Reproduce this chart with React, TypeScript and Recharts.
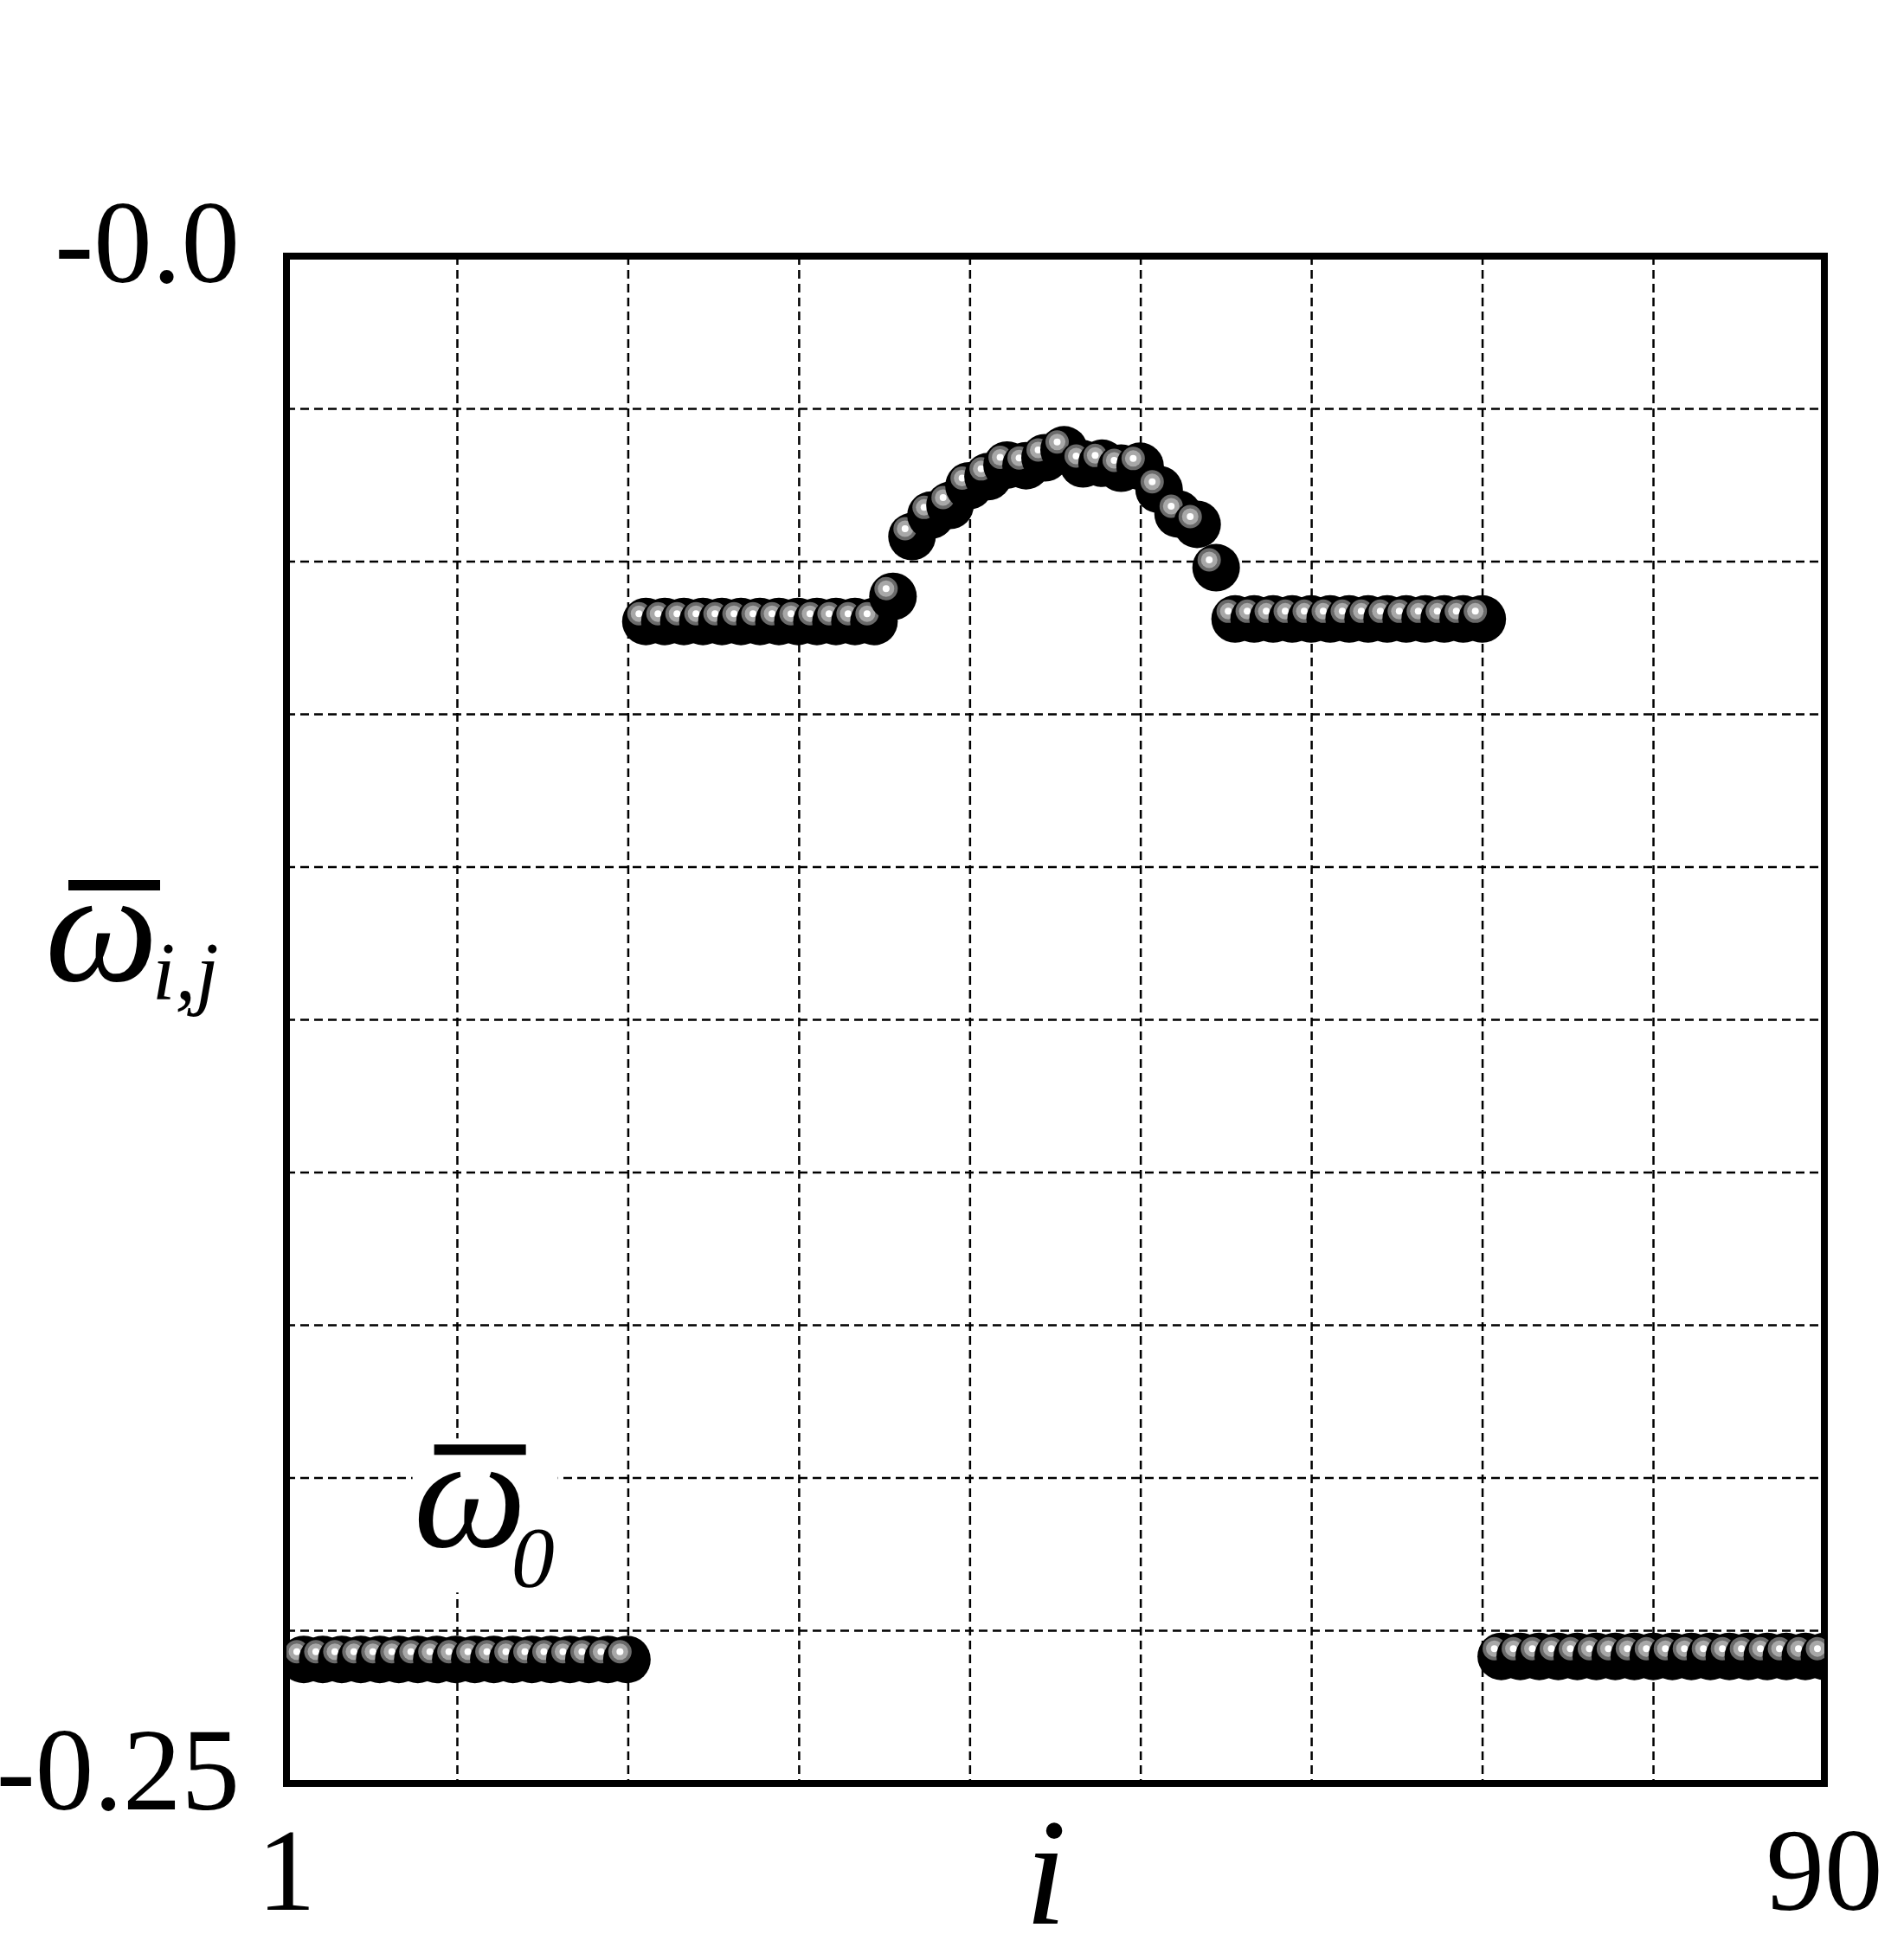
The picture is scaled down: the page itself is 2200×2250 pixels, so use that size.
import { ScatterChart, Scatter, XAxis, YAxis, CartesianGrid, ReferenceDot } from "recharts";

// site index i of each ball
const I_POS = [
  2, 3.1, 4.2, 5.3, 6.4, 7.5, 8.6, 9.7, 10.8, 11.9,
  13, 14.1, 15.2, 16.3, 17.4, 18.5, 19.6, 20.7, 21.8, 22.9,
  24, 25.1, 26.2, 27.3, 28.4, 29.5, 30.6, 31.7, 32.8, 33.9,
  35, 36.1, 37.2, 38.3, 39.4, 40.5, 41.6, 42.7, 43.8, 44.9,
  46, 47.1, 48.2, 49.3, 50.4, 51.5, 52.6, 53.7, 54.8, 55.9,
  57, 58.1, 59.2, 60.3, 61.4, 62.5, 63.6, 64.7, 65.8, 66.9,
  68, 69.1, 70.2, 71.3, 72.4, 73.5, 74.6, 75.7, 76.8, 77.9,
  79, 80.1, 81.2, 82.3, 83.4, 84.5, 85.6, 86.7, 87.8, 88.9,
  90,
];

// mean omega at each site
const OMEGA = [
  -0.2297, -0.2297, -0.2297, -0.2297, -0.2297, -0.2297, -0.2297, -0.2297, -0.2297, -0.2297,
  -0.2297, -0.2297, -0.2297, -0.2297, -0.2297, -0.2297, -0.2297, -0.2297, -0.0598, -0.0598,
  -0.0598, -0.0598, -0.0598, -0.0598, -0.0598, -0.0598, -0.0598, -0.0598, -0.0598, -0.0598,
  -0.0598, -0.0557, -0.0459, -0.0424, -0.0408, -0.0376, -0.0361, -0.0342, -0.0343, -0.033,
  -0.0317, -0.034, -0.0339, -0.0347, -0.0344, -0.0382, -0.0422, -0.0439, -0.051, -0.0594,
  -0.0594, -0.0594, -0.0594, -0.0594, -0.0594, -0.0594, -0.0594, -0.0594, -0.0594, -0.0594,
  -0.0594, -0.0594, -0.0594, -0.2292, -0.2292, -0.2292, -0.2292, -0.2292, -0.2292, -0.2292,
  -0.2292, -0.2292, -0.2292, -0.2292, -0.2292, -0.2292, -0.2292, -0.2292, -0.2292, -0.2292,
  -0.2292,
];

const X_GRID = [1, 10.89, 20.78, 30.67, 40.56, 50.44, 60.33, 70.22, 80.11, 90];
const Y_GRID = [-0.25, -0.225, -0.2, -0.175, -0.15, -0.125, -0.1, -0.075, -0.05, -0.025, 0];
const X_LABELS: Record<string, string> = { "1": "1", "90": "90" };
const Y_LABELS: Record<string, string> = { "-0.25": "-0.25", "0": "-0.0" };

const data = I_POS.map((i, k) => ({ i, w: OMEGA[k] }));

const SERIF = '"Liberation Serif", "Times New Roman", serif';
const FRAME = { stroke: "#000", strokeWidth: 8, strokeLinecap: "square" as const };

function Ball(props: any) {
  const { cx, cy } = props;
  if (cx == null || cy == null) return <g />;
  return (
    <g>
      <circle cx={cx} cy={cy} r={27.5} fill="#000" />
      <circle cx={cx - 8} cy={cy - 9} r={13.5} fill="#6a6a6a" />
      <circle cx={cx - 8} cy={cy - 9} r={9.5} fill="#a8a8a8" />
      <circle cx={cx - 8} cy={cy - 9} r={4} fill="#fff" />
    </g>
  );
}

function YTick({ x, y, payload }: any) {
  const label = Y_LABELS[String(payload.value)];
  if (!label) return <g />;
  return (
    <text x={x - 54} y={y + 30} textAnchor="end" fontFamily={SERIF} fontSize={135} fill="#000">
      {label}
    </text>
  );
}

function XTick({ x, y, payload }: any) {
  const label = X_LABELS[String(payload.value)];
  if (!label) return <g />;
  return (
    <text x={x} y={y + 146} textAnchor="middle" fontFamily={SERIF} fontSize={135} fill="#000">
      {label}
    </text>
  );
}

function Omega0Label({ viewBox }: any) {
  const { x, y } = viewBox;
  return (
    <g>
      <rect x={x - 64} y={y - 81} width={168} height={178} fill="#fff" />
      <rect x={x - 39} y={y - 74} width={106} height={12} fill="#000" />
      <text x={x - 63} y={y + 44} fontFamily={SERIF} fontStyle="italic" fontSize={185} fill="#000">
        ω
      </text>
      <text x={x + 50} y={y + 90} fontFamily={SERIF} fontStyle="italic" fontSize={100} fill="#000">
        0
      </text>
    </g>
  );
}

export default function App() {
  return (
    <div style={{ position: "absolute", left: 0, top: 0, background: "#fff" }}>
      <ScatterChart width={2200} height={2250} margin={{ top: 295, right: 91, bottom: 0, left: 0 }}>
        <CartesianGrid stroke="#000" strokeWidth={2.5} strokeDasharray="10 6" />
        <ReferenceDot x={11.5} y={-0.205} r={0} fill="none" stroke="none" label={<Omega0Label />} />
        <Scatter data={data} dataKey="w" shape={(p: any) => <Ball {...p} />} isAnimationActive={false} />
        <XAxis
          type="number"
          dataKey="i"
          domain={[1, 90]}
          ticks={X_GRID}
          allowDataOverflow
          height={189}
          tickSize={0}
          tickMargin={0}
          tickLine={false}
          axisLine={FRAME}
          tick={<XTick />}
        />
        <XAxis xAxisId="top" orientation="top" type="number" domain={[1, 90]} height={1} tick={false} tickLine={false} axisLine={FRAME} />
        <YAxis
          type="number"
          dataKey="w"
          domain={[-0.25, 0]}
          ticks={Y_GRID}
          allowDataOverflow
          width={331}
          tickSize={0}
          tickMargin={0}
          tickLine={false}
          axisLine={FRAME}
          tick={<YTick />}
        />
        <YAxis yAxisId="right" orientation="right" type="number" domain={[-0.25, 0]} width={1} tick={false} tickLine={false} axisLine={FRAME} />
      </ScatterChart>
      <svg width={2200} height={2250} style={{ position: "absolute", left: 0, top: 0, pointerEvents: "none" }}>
        <text x={1184} y={2223} fontFamily={SERIF} fontStyle="italic" fontSize={175} fill="#000">
          i
        </text>
        <rect x={79} y={1017} width={106} height={12} fill="#000" />
        <text x={52} y={1133} fontFamily={SERIF} fontStyle="italic" fontSize={185} fill="#000">
          ω
        </text>
        <text x={176} y={1155} fontFamily={SERIF} fontStyle="italic" fontSize={95} fill="#000">
          i,j
        </text>
      </svg>
    </div>
  );
}
